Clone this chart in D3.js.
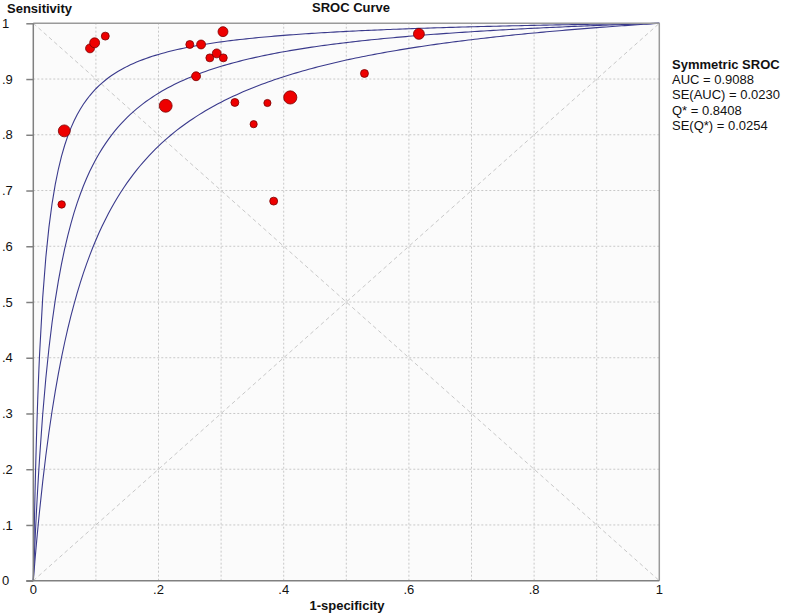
<!DOCTYPE html>
<html><head><meta charset="utf-8">
<script src="https://cdn.jsdelivr.net/npm/d3@7"></script>
<style>body{margin:0;background:#fff;}svg{display:block;font-family:Arial,"Liberation Sans",sans-serif;}</style>
</head><body>
<svg id="c" width="787" height="615"></svg>
<script>
// Study points: 1-specificity (FPR), sensitivity (TPR), weight (marker area)
const fpr = [0.0495,0.0453,0.0906,0.098,0.115,0.250,0.268,0.303,0.282,0.293,0.3035,0.260,0.2115,0.322,0.374,0.4105,0.529,0.616,0.352,0.384];
const tpr = [0.807,0.675,0.955,0.965,0.977,0.962,0.962,0.985,0.938,0.946,0.938,0.905,0.852,0.858,0.857,0.867,0.910,0.981,0.819,0.681];
const weight = [36,14,20,25,16,16,20,25,16,20,16,20,42,16,13,44,16,30,13,16];
// Symmetric SROC summary
const qStar = 0.8408, seQ = 0.0254;
const sumLabels = ["AUC = 0.9088","SE(AUC) = 0.0230","Q* = 0.8408","SE(Q*) = 0.0254"];
const xTicks = [0,0.2,0.4,0.6,0.8,1];
const yTicks = [0,0.1,0.2,0.3,0.4,0.5,0.6,0.7,0.8,0.9,1];
const tickFmt = v => v===0?"0":v===1?"1":d3.format(".1f")(v).replace(/^0/,"");

const svg = d3.select("#c");
const x = d3.scaleLinear().domain([0,1]).range([33.3,659.3]);
const y = d3.scaleLinear().domain([0,1]).range([580.7,23.3]);

svg.append("rect").attr("x",x(0)).attr("y",y(1)).attr("width",x(1)-x(0)).attr("height",y(0)-y(1)).attr("fill","#fbfbfb");

const grid = d3.range(1,10).map(i=>i/10);
svg.append("g").selectAll("line").data(grid).join("line")
  .attr("x1",d=>x(d)).attr("x2",d=>x(d)).attr("y1",y(0)).attr("y2",y(1))
  .attr("stroke","#c8c8c8").attr("stroke-dasharray","2,2");
svg.append("g").selectAll("line").data(grid).join("line")
  .attr("y1",d=>y(d)).attr("y2",d=>y(d)).attr("x1",x(0)).attr("x2",x(1))
  .attr("stroke","#c8c8c8").attr("stroke-dasharray","2,2");
// diagonals
svg.append("line").attr("x1",x(0)).attr("y1",y(0)).attr("x2",x(1)).attr("y2",y(1)).attr("stroke","#c8c8c8").attr("stroke-dasharray","4,3");
svg.append("line").attr("x1",x(0)).attr("y1",y(1)).attr("x2",x(1)).attr("y2",y(0)).attr("stroke","#c8c8c8").attr("stroke-dasharray","4,3");

// SROC curves
const logit = p => Math.log(p/(1-p));
const fs = [0].concat(d3.range(-5,-2,0.05).map(e=>Math.pow(10,e)), d3.range(0.01,1,0.005), [1]);
const line = d3.line().x(d=>x(d[0])).y(d=>y(d[1]));
[qStar-2*seQ, qStar, qStar+2*seQ].forEach(q=>{
  const a = 2*logit(q);
  const pts = fs.map(f=> f===0?[0,0]: f===1?[1,1]:[f, 1/(1+Math.exp(-(a+logit(f))))]);
  svg.append("path").attr("d",line(pts)).attr("fill","none").attr("stroke","#3a3a8c").attr("stroke-width",1.1);
});

// border
svg.append("line").attr("x1",x(0)).attr("x2",x(1)).attr("y1",y(1)).attr("y2",y(1)).attr("stroke","#9a9a9a").attr("stroke-width",1.5);
svg.append("line").attr("x1",x(1)).attr("x2",x(1)).attr("y1",y(0)).attr("y2",y(1)).attr("stroke","#9a9a9a").attr("stroke-width",1.5);
// axes
const yAxis = d3.axisLeft(y).tickValues(yTicks).tickFormat("").tickSize(7);
const gy = svg.append("g").attr("transform",`translate(${x(0)},0)`).call(yAxis);
gy.selectAll("line,path").attr("stroke","#808080").attr("stroke-width",1.5);
gy.select(".domain").attr("d",`M0,${y(1)}V${y(0)}`);
svg.append("line").attr("x1",x(0)-7).attr("x2",x(1)).attr("y1",y(0)).attr("y2",y(0)).attr("stroke","#808080").attr("stroke-width",1.5);

svg.append("g").selectAll("text").data(yTicks).join("text")
  .attr("x",2).attr("y",d=>y(d)).attr("dy","0.35em").attr("font-size",13).attr("fill","#111").text(tickFmt);
svg.append("g").selectAll("text").data(xTicks).join("text")
  .attr("x",d=>x(d)).attr("y",594).attr("text-anchor","middle").attr("font-size",13).attr("fill","#111").text(tickFmt);

// points
const r = d3.scaleSqrt().domain([0,d3.max(weight)]).range([0,6.6]);
svg.append("g").selectAll("circle").data(fpr.map((f,i)=>({f,t:tpr[i],w:weight[i]})))
  .join("circle").attr("cx",d=>x(d.f)).attr("cy",d=>y(d.t)).attr("r",d=>r(d.w))
  .attr("fill","#ee0000").attr("stroke","#7a0000").attr("stroke-width",0.8);

// titles
svg.append("text").attr("x",7).attr("y",13).attr("font-size",13).attr("font-weight","bold").attr("fill","#111").text("Sensitivity");
svg.append("text").attr("x",351).attr("y",12).attr("text-anchor","middle").attr("font-size",13).attr("font-weight","bold").attr("fill","#111").text("SROC Curve");
svg.append("text").attr("x",347).attr("y",610).attr("text-anchor","middle").attr("font-size",13).attr("font-weight","bold").attr("fill","#111").text("1-specificity");
svg.append("text").attr("x",672).attr("y",69).attr("font-size",13).attr("font-weight","bold").attr("fill","#111").text("Symmetric SROC");
svg.append("g").selectAll("text").data(sumLabels).join("text")
  .attr("x",672).attr("y",(d,i)=>84+i*15.3).attr("font-size",13).attr("fill","#111").text(d=>d);
</script>
</body></html>
